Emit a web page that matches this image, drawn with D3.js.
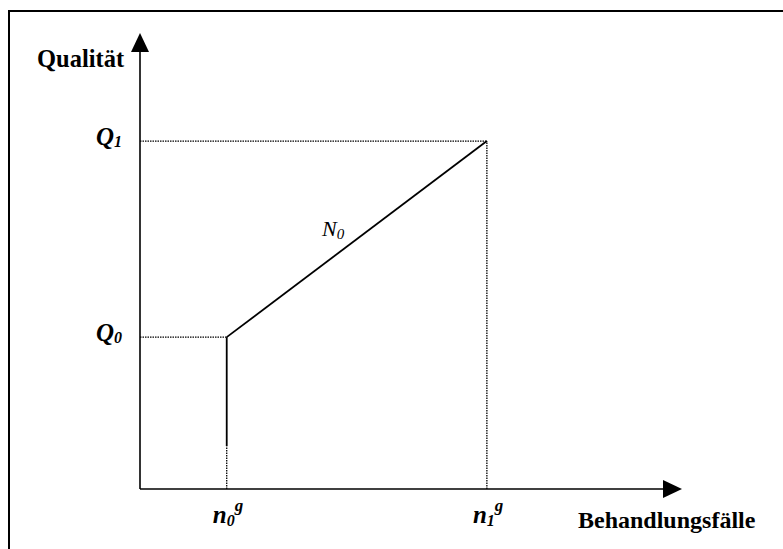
<!DOCTYPE html>
<html><head><meta charset="utf-8">
<script src="https://cdn.jsdelivr.net/npm/d3@7"></script>
<style>body{margin:0;background:#fff}svg{display:block}text{font-family:"Liberation Serif","Times New Roman",serif;fill:#000}</style>
</head><body><svg id="c" width="783" height="549"></svg>
<script>
// Data (normalized units on each axis)
const xLevels = [{name:"n0", sub:"0", value:0.16},{name:"n1", sub:"1", value:0.64}];
const yLevels = [{name:"Q0", sub:"0", value:0.333},{name:"Q1", sub:"1", value:0.763}];
const curvePoints = [{x:0.16,y:0.333},{x:0.64,y:0.763}];
const verticalSolid = [{x:0.16,y:0.094},{x:0.16,y:0.333}];
const verticalDotted = [{x:0.16,y:0},{x:0.16,y:0.094}];
const axisTitles = ["Qualität","Behandlungsfälle"];
const curveLabel = {main:"N", sub:"0", x:0.4, y:0.55};

const svg = d3.select("#c");
const x = d3.scaleLinear().domain([0,1]).range([140,682]);
const y = d3.scaleLinear().domain([0,1]).range([489,33]);

// frame
svg.append("rect").attr("x",9).attr("y",11).attr("width",790).attr("height",560)
  .attr("fill","none").attr("stroke","#000").attr("stroke-width",2);

// axes
svg.append("line").attr("x1",x(0)).attr("y1",y(0)).attr("x2",x(0)).attr("y2",y(0.96))
  .attr("stroke","#000").attr("stroke-width",1.6);
svg.append("line").attr("x1",x(0)).attr("y1",y(0)).attr("x2",x(0.965)).attr("y2",y(0))
  .attr("stroke","#000").attr("stroke-width",1.6);
svg.append("path").attr("d",`M${x(0)},${y(1)} L${x(0)-9},${y(1)+19} L${x(0)+9},${y(1)+19}Z`);
svg.append("path").attr("d",`M${x(1)},${y(0)} L${x(1)-19},${y(0)-9} L${x(1)-19},${y(0)+9}Z`);

const line = d3.line().x(d=>x(d.x)).y(d=>y(d.y));

// dotted guides
yLevels.forEach(q=>{
  const xe = q.name==="Q1" ? xLevels[1].value : xLevels[0].value;
  svg.append("path").attr("d",line([{x:0,y:q.value},{x:xe,y:q.value}]))
    .attr("stroke","#000").attr("stroke-width",1.3).attr("stroke-dasharray","1.5,1").attr("fill","none");
});
svg.append("path").attr("d",line([{x:xLevels[1].value,y:0},{x:xLevels[1].value,y:yLevels[1].value}]))
  .attr("stroke","#000").attr("stroke-width",1.3).attr("stroke-dasharray","1.5,1").attr("fill","none");
svg.append("path").attr("d",line(verticalDotted))
  .attr("stroke","#000").attr("stroke-width",1.3).attr("stroke-dasharray","1.5,1").attr("fill","none");

// solid curve
svg.append("path").attr("d",line(verticalSolid)).attr("stroke","#000").attr("stroke-width",1.8).attr("fill","none");
svg.append("path").attr("d",line(curvePoints)).attr("stroke","#000").attr("stroke-width",1.8).attr("fill","none");

// axis titles
svg.append("text").attr("x",37).attr("y",67).attr("font-size",24.5).attr("font-weight","bold").text(axisTitles[0]);
svg.append("text").attr("x",578).attr("y",528).attr("font-size",24).attr("font-weight","bold").text(axisTitles[1]);

// Q labels
yLevels.forEach(q=>{
  const t = svg.append("text").attr("x",x(0)-44).attr("y",y(q.value)+4)
    .attr("font-size",25).attr("font-weight","bold").attr("font-style","italic");
  t.append("tspan").text("Q");
  t.append("tspan").attr("font-size",16).attr("dy",2).text(q.sub);
});
// n labels
xLevels.forEach(n=>{
  const t = svg.append("text").attr("x",x(n.value)-14).attr("y",523)
    .attr("font-size",25).attr("font-weight","bold").attr("font-style","italic");
  t.append("tspan").text("n");
  t.append("tspan").attr("font-size",16).attr("dy",3).text(n.sub);
  t.append("tspan").attr("font-size",17).attr("dy",-15).text("g");
});
// curve label
const nl = svg.append("text").attr("x",322).attr("y",236).attr("font-size",22).attr("font-style","italic");
nl.append("tspan").text(curveLabel.main);
nl.append("tspan").attr("font-size",15).attr("dy",3).text(curveLabel.sub);
</script></body></html>
